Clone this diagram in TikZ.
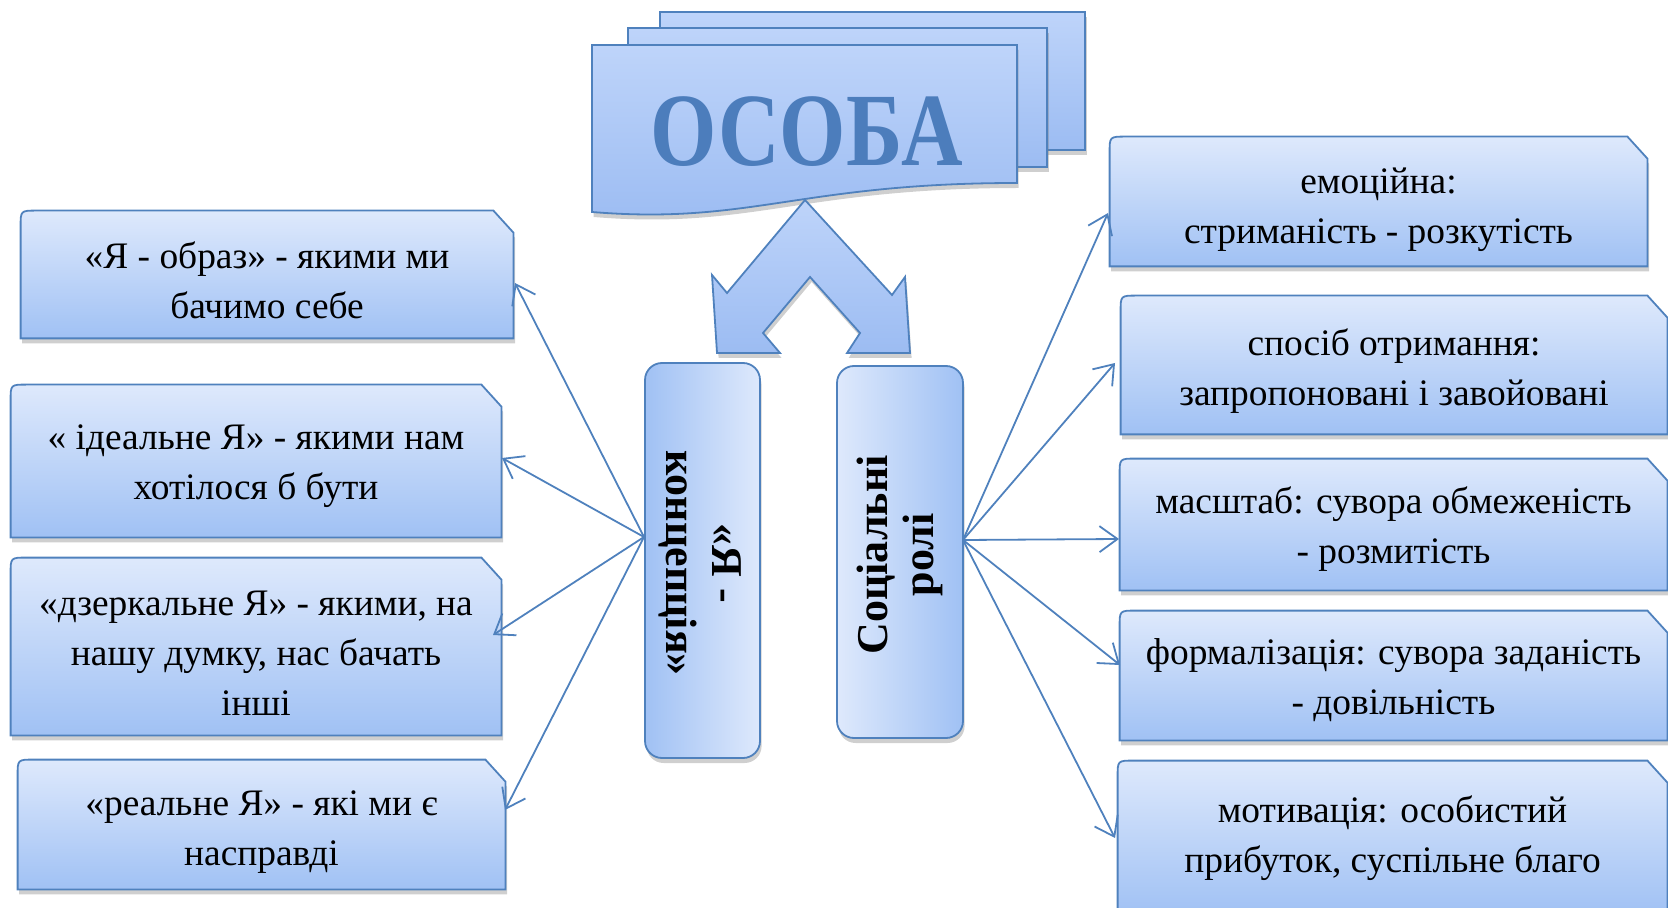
\documentclass[tikz,border=0pt]{standalone}
\usepackage{fontspec}
\usepackage{graphicx}
\setmainfont{Liberation Serif}
\usetikzlibrary{arrows.meta,shadows,calc}
\pgfdeclarelayer{bg}
\pgfsetlayers{bg,main}
\definecolor{bord}{RGB}{79,129,189}
\definecolor{ftop}{RGB}{222,233,252}
\definecolor{fbot}{RGB}{160,193,244}
\definecolor{ttop}{RGB}{190,212,250}
\definecolor{tbot}{RGB}{156,188,242}
\definecolor{ttl}{RGB}{76,125,188}
\tikzset{
  boxtxt/.style={inner sep=0pt, align=center, font=\fontsize{18.7}{25}\selectfont, text=black},
  boxnode/.style={inner sep=0pt},
  shad/.style={drop shadow={shadow xshift=0.8pt, shadow yshift=-2.5pt, opacity=0.38}},
  boxfill/.style={draw=bord, line width=0.9pt, top color=ftop, bottom color=fbot, shad},
  titlefill/.style={draw=bord, line width=0.9pt, top color=ttop, bottom color=tbot, shad},
  pillL/.style={draw=bord, line width=0.9pt, rounded corners=8.5pt, left color=fbot, right color=ftop, shad, inner sep=0pt},
  pillR/.style={draw=bord, line width=0.9pt, rounded corners=8.5pt, left color=ftop, right color=fbot, shad, inner sep=0pt},
  vtxt/.style={font=\bfseries\fontsize{22}{23}\selectfont, align=center, inner sep=0pt},
  conn/.style={draw=bord, line width=0.9pt, -{Straight Barb[length=9pt,width=13pt]}},
}
\newcommand\snipbox[1]{%
  \path[boxfill] (#1.south west) -- (#1.south east) -- ([yshift=-11pt]#1.north east)
    -- ([xshift=-10pt]#1.north east) -- ([xshift=8pt]#1.north west)
    .. controls (#1.north west) .. ([yshift=-8pt]#1.north west) -- cycle;}
\begin{document}
\begin{tikzpicture}[x=0.5pt,y=-0.5pt]
\useasboundingbox (0,0) rectangle (1668,908);

% left boxes
\node[boxnode, minimum width=246pt, minimum height=63.5pt] (L1) at (267,274.5) {};
\node[boxnode, minimum width=245pt, minimum height=76pt] (L2) at (256,461) {};
\node[boxnode, minimum width=245pt, minimum height=88.5pt] (L3) at (256,646.5) {};
\node[boxnode, minimum width=243.5pt, minimum height=64.5pt] (L4) at (261.5,824.5) {};
% right boxes
\node[boxnode, minimum width=268.5pt, minimum height=64.5pt] (R1) at (1378.5,201.5) {};
\node[boxnode, minimum width=273pt, minimum height=69pt] (R2) at (1394,365) {};
\node[boxnode, minimum width=273.5pt, minimum height=65.5pt] (R3) at (1393.5,524.5) {};
\node[boxnode, minimum width=273.5pt, minimum height=64.5pt] (R4) at (1393.5,675.5) {};
\node[boxnode, minimum width=274.5pt, minimum height=77pt] (R5) at (1392.5,838) {};

\begin{pgfonlayer}{bg}
\snipbox{L1}\snipbox{L2}\snipbox{L3}\snipbox{L4}
\snipbox{R1}\snipbox{R2}\snipbox{R3}\snipbox{R4}\snipbox{R5}
% title document stack
\path[titlefill] (660,12) rectangle (1085,150);
\path[titlefill] (628,28) rectangle (1047,167);
\path[titlefill] (592,45) -- (1017,45) -- (1017,183)
  .. controls (800,183) and (750,225) .. (592,212) -- cycle;
% double bent arrow
\path[titlefill] (805,200) -- (727,293) -- (712,275) -- (717,353) -- (780,353)
  -- (763,333) -- (810,277) -- (860,333) -- (847,353) -- (910,353)
  -- (905,277) -- (892,295) -- cycle;
\end{pgfonlayer}

% box texts
\node[boxtxt] (L1t) at ([yshift=-3pt]L1.center) {«Я - образ» - якими ми\\бачимо себе};
\node[boxtxt] (L2t) at ([yshift=-2.5pt]L2.center) {« ідеальне Я» - якими нам\\хотілося б бути};
\node[boxtxt] (L3t) at ([yshift=-3.5pt]L3.center) {«дзеркальне Я» - якими, на\\нашу думку, нас бачать\\інші};
\node[boxtxt] (L4t) at ([yshift=-4pt]L4.center) {«реальне Я» - які ми є\\насправді};
\node[boxtxt] (R1t) at ([yshift=-4pt]R1.center) {емоційна:\\стриманість - розкутість};
\node[boxtxt] (R2t) at ([yshift=-3pt]R2.center) {спосіб отримання:\\запропоновані і завойовані};
\node[boxtxt] (R3t) at ([yshift=-2.5pt]R3.center) {масштаб: сувора обмеженість\\- розмитість};
\node[boxtxt] (R4t) at ([yshift=-2.5pt]R4.center) {формалізація: сувора заданість\\- довільність};
\node[boxtxt] (R5t) at (R5.center) {мотивація: особистий\\прибуток, суспільне благо};

\node[font=\bfseries\fontsize{52}{52}\selectfont, text=ttl, inner sep=0pt] (T) at (807,132) {\scalebox{0.82}[1]{ОСОБА}};

% central boxes
\node[pillL, minimum width=57.5pt, minimum height=197.5pt] (CL) at (702.5,560.5) {};
\node[pillR, minimum width=63pt, minimum height=186pt] (CR) at (900,552) {};
\node[vtxt, rotate=-90] (CLt) at (700,563) {«Я -\\концепція»};
\node[vtxt, rotate=90] (CRt) at (900,555) {Соціальні\\ролі};

% connector ends
\coordinate (oL) at (644,537);
\coordinate (oR) at (963,540);
\coordinate (eL1) at (515,283);
\coordinate (eL2) at (502,458);
\coordinate (eL3) at (493,635);
\coordinate (eL4) at (505,810);
\coordinate (eR1) at (1108,213);
\coordinate (eR2) at (1115,363);
\coordinate (eR3) at (1119,539);
\coordinate (eR4) at (1120,665);
\coordinate (eR5) at (1115,838);
\foreach \e in {eL1,eL2,eL3,eL4} \draw[conn] (oL) -- (\e);
\foreach \e in {eR1,eR2,eR3,eR4,eR5} \draw[conn] (oR) -- (\e);
\end{tikzpicture}
\end{document}
